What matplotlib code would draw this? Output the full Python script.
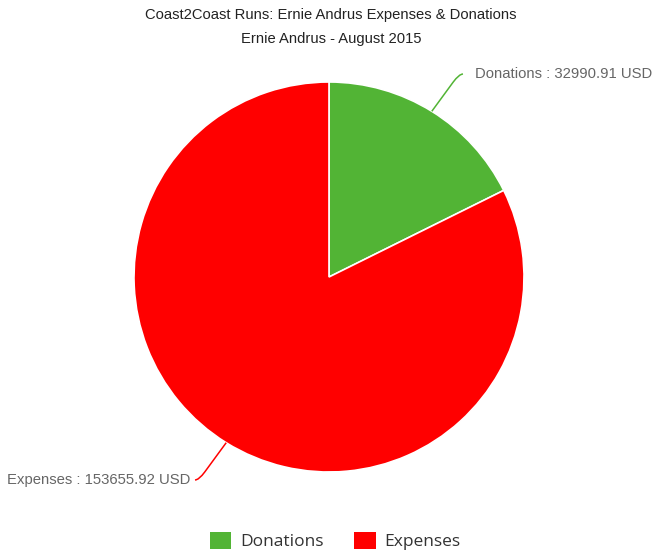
import numpy as np
import matplotlib.pyplot as plt
from matplotlib.path import Path
from matplotlib.patches import PathPatch

labels = ['Donations', 'Expenses']
values = [32990.91, 153655.92]
colors = ['#52b435', '#ff0000']

W, H = 663, 552
fig = plt.figure(figsize=(W / 100, H / 100), dpi=100)
fig.patch.set_facecolor('white')

# pie axes: centre (329, 277) px, radius 195 px
cx, cy, r = 329, 277, 195
ax = fig.add_axes([(cx - r) / W, (H - cy - r) / H, 2 * r / W, 2 * r / H])
ax.set_aspect('equal')
ax.axis('off')

wedges, _ = ax.pie(values, colors=colors, startangle=90, counterclock=False,
                   radius=1, center=(0, 0), frame=False,
                   wedgeprops=dict(edgecolor='white', linewidth=1.2))
ax.set_xlim(-1, 1)
ax.set_ylim(-1, 1)

# data labels with curved connectors
total = sum(values)
start = 90.0
for w, lab, val, col in zip(wedges, labels, values, colors):
    span = val / total * 360
    mid = np.deg2rad(start - span / 2)
    start -= span
    ex, ey = np.cos(mid), np.sin(mid)
    side = 1 if ex >= 0 else -1
    ty = ey * 1.225
    cxn, cyn = ex + side * 0.14, ty          # corner of the connector
    qx, qy = ex + 0.78 * (cxn - ex), ey + 0.78 * (cyn - ey)
    tx = ex + side * 0.16
    verts = [(ex, ey), (qx, qy), (cxn, cyn), (tx, ty)]
    codes = [Path.MOVETO, Path.LINETO, Path.CURVE3, Path.CURVE3]
    ax.add_patch(PathPatch(Path(verts, codes), fill=False, edgecolor=col,
                           linewidth=1.1, clip_on=False))
    pad = 0.06 if side > 0 else 0.026
    ax.text(tx + side * pad, ty, f'{lab} : {val:.2f} USD',
            ha='left' if side > 0 else 'right', va='center',
            fontsize=10.7, color='#666666', family='Liberation Sans',
            clip_on=False)

fig.text(331 / W, 1 - 15 / H, 'Coast2Coast Runs: Ernie Andrus Expenses & Donations',
         ha='center', va='center', fontsize=10.6, color='#222222',
         family='Liberation Sans')
fig.text(331 / W, 1 - 39 / H, 'Ernie Andrus - August 2015',
         ha='center', va='center', fontsize=10.6, color='#222222',
         family='Liberation Sans')

leg = fig.legend(wedges, labels, loc='center', bbox_to_anchor=(335 / W, 1 - 541 / H),
                 ncol=2, frameon=False, handlelength=1.25, handleheight=1.15,
                 handletextpad=0.5, columnspacing=1.75,
                 prop={'family': 'Open Sans', 'size': 12.5})
for t in leg.get_texts():
    t.set_color('#333333')
for h in leg.legend_handles:
    h.set_edgecolor('none')

fig.savefig('out.png', dpi=100)
